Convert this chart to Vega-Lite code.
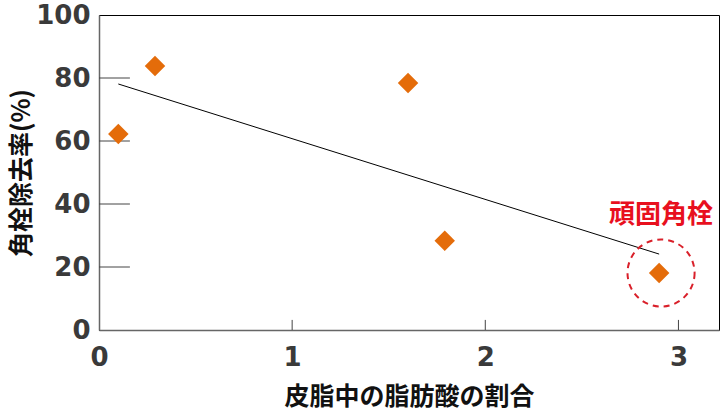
{
  "$schema": "https://vega.github.io/schema/vega-lite/v6.json",
  "width": 620,
  "height": 315,
  "autosize": "none",
  "padding": {"left": 99, "top": 15, "right": 1, "bottom": 82},
  "background": "white",
  "config": {
    "view": {"stroke": "#000000", "strokeWidth": 1},
    "axis": {
      "grid": false,
      "ticks": false,
      "domainColor": "#666666",
      "domainWidth": 1.5,
      "labelFont": "DejaVu Sans",
      "labelFontWeight": "bold",
      "labelFontSize": 26,
      "labelColor": "#3a3a3a",
      "titleFont": "Noto Sans CJK JP",
      "titleFontWeight": "bold",
      "titleFontSize": 25,
      "titleColor": "#111111"
    }
  },
  "datasets": {
    "points": [
      {"ratio": 0.1, "removal": 62.2},
      {"ratio": 0.29, "removal": 83.8},
      {"ratio": 1.6, "removal": 78.4},
      {"ratio": 1.79, "removal": 28.3},
      {"ratio": 2.9, "removal": 18.1}
    ],
    "trend": [
      {"ratio": 0.1, "removal": 78.1},
      {"ratio": 2.9, "removal": 24.1}
    ],
    "highlight": [
      {"ratio": 2.91, "removal": 18.1, "label": "頑固角栓", "labelY": 36.5}
    ],
    "xticks": [
      {"tx": 1, "y0": 0, "y1": 3.2},
      {"tx": 2, "y0": 0, "y1": 3.2},
      {"tx": 3, "y0": 0, "y1": 3.2}
    ],
    "yticks": [
      {"ty": 20, "x0": 0, "x1": 0.16},
      {"ty": 40, "x0": 0, "x1": 0.16},
      {"ty": 60, "x0": 0, "x1": 0.16},
      {"ty": 80, "x0": 0, "x1": 0.16}
    ]
  },
  "layer": [
    {
      "data": {"name": "trend"},
      "mark": {"type": "line", "color": "#000000", "strokeWidth": 1},
      "encoding": {
        "x": {
          "field": "ratio", "type": "quantitative",
          "scale": {"domain": [0, 3.21], "nice": false},
          "axis": {"values": [0, 1, 2, 3], "format": "d", "labelPadding": 14, "title": "皮脂中の脂肪酸の割合", "titleBaseline": "middle", "titleY": 66, "labelFlush": false}
        },
        "y": {
          "field": "removal", "type": "quantitative",
          "scale": {"domain": [0, 100], "nice": false},
          "axis": {"values": [0, 20, 40, 60, 80, 100], "labelPadding": 9, "title": "角栓除去率(%)", "titleBaseline": "middle", "titleX": -78, "labelFlush": false}
        }
      }
    },
    {
      "data": {"name": "xticks"},
      "mark": {"type": "rule", "color": "#444444", "strokeWidth": 1},
      "encoding": {
        "x": {"field": "tx", "type": "quantitative"},
        "y": {"field": "y0", "type": "quantitative"},
        "y2": {"field": "y1"}
      }
    },
    {
      "data": {"name": "yticks"},
      "mark": {"type": "rule", "color": "#444444", "strokeWidth": 1},
      "encoding": {
        "y": {"field": "ty", "type": "quantitative"},
        "x": {"field": "x0", "type": "quantitative"},
        "x2": {"field": "x1"}
      }
    },
    {
      "data": {"name": "points"},
      "mark": {"type": "point", "shape": "diamond", "filled": true, "color": "#E46C0A", "opacity": 1, "size": 420},
      "encoding": {
        "x": {"field": "ratio", "type": "quantitative"},
        "y": {"field": "removal", "type": "quantitative"}
      }
    },
    {
      "data": {"name": "highlight"},
      "mark": {"type": "point", "shape": "circle", "filled": false, "stroke": "#D9202A", "strokeWidth": 2, "strokeDash": [6, 5], "opacity": 1, "size": 4500},
      "encoding": {
        "x": {"field": "ratio", "type": "quantitative"},
        "y": {"field": "removal", "type": "quantitative"}
      }
    },
    {
      "data": {"name": "highlight"},
      "mark": {"type": "text", "font": "Noto Sans CJK JP", "fontWeight": "bold", "fontSize": 26, "color": "#E8101E", "align": "center", "baseline": "middle"},
      "encoding": {
        "x": {"field": "ratio", "type": "quantitative"},
        "y": {"field": "labelY", "type": "quantitative"},
        "text": {"field": "label"}
      }
    }
  ]
}
